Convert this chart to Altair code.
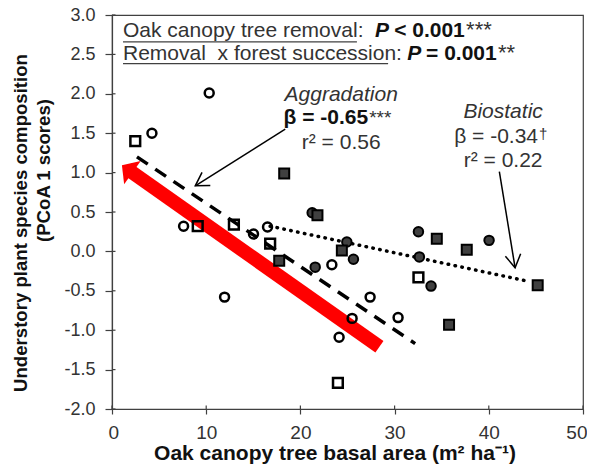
import altair as alt
import pandas as pd

FONT = "Liberation Sans, Arial, sans-serif"

# ---------------- data ----------------
open_circle_x = [4.24, 10.32, 7.60, 15.02, 16.51, 23.34, 27.40, 25.49, 24.11, 11.95, 30.37]
open_circle_y = [1.50, 2.01, 0.32, 0.22, 0.31, -0.17, -0.58, -0.85, -1.09, -0.58, -0.84]
open_square_x = [9.10, 12.94, 16.79, 23.98, 2.47, 32.53]
open_square_y = [0.32, 0.34, 0.10, -1.67, 1.40, -0.33]
filled_circle_x = [21.25, 21.57, 24.93, 25.63, 32.53, 32.63, 33.87, 40.03]
filled_circle_y = [0.49, -0.20, 0.12, -0.10, 0.25, -0.07, -0.44, 0.14]
filled_square_x = [17.75, 18.28, 21.81, 24.40, 34.48, 37.66, 45.19, 35.78]
filled_square_y = [-0.12, 0.99, 0.46, 0.01, 0.16, 0.02, -0.43, -0.93]

# fitted regression lines (end points)
aggradation_fit_x = [2.65, 32.18]
aggradation_fit_y = [1.20, -1.17]
biostatic_fit_x = [16.79, 44.20]
biostatic_fit_y = [0.32, -0.38]

# annotation arrows (data units)
red_arrow_x = [1.61, 28.39]
red_arrow_y = [1.047, -1.21]
aggr_arrow_x = [18.39, 8.84]
aggr_arrow_y = [1.552, 0.832]
bio_arrow_x = [41.12, 42.79]
bio_arrow_y = [1.013, -0.207]

x_ticks = [0, 10, 20, 30, 40, 50]
y_ticks = [-2.0, -1.5, -1.0, -0.5, 0.0, 0.5, 1.0, 1.5, 2.0, 2.5, 3.0]

x_title = "Oak canopy tree basal area (m² ha⁻¹)"
y_title_lines = ["Understory plant species composition", "(PCoA 1 scores)"]

W, H = 471, 394

# ---------------- scales / axes ----------------
x_enc = alt.X(
    "x:Q",
    scale=alt.Scale(domain=[0, 50], nice=False, zero=False),
    axis=alt.Axis(values=x_ticks, format="d", title=None, grid=False, tickSize=5,
                  labelPadding=9, labelFontSize=19, labelFlush=True, labelFlushOffset=4),
)
y_enc = alt.Y(
    "y:Q",
    scale=alt.Scale(domain=[-2, 3], nice=False, zero=False),
    axis=alt.Axis(values=y_ticks, title=None, grid=False, tickSize=7,
                  labelPadding=10, labelFontSize=18,
                  labelExpr="replace(format(datum.value, '.1f'), '\u2212', '-')"),
)


def pts(xs, ys):
    return pd.DataFrame({"x": xs, "y": ys})


def text_layer(texts, xs, ys, **kw):
    df = pd.DataFrame({"x": xs, "y": ys, "t": texts})
    kw.setdefault("baseline", "alphabetic")
    return alt.Chart(df).mark_text(font=FONT, **kw).encode(x=x_enc, y=y_enc, text="t:N")


def pixel_text(text, px, py, **kw):
    return alt.Chart(pd.DataFrame({"t": [text]})).mark_text(font=FONT, **kw).encode(
        x=alt.value(px), y=alt.value(py), text="t:N")


# ---------------- marks ----------------
# short inward parts of the tick marks (ticks cross the axes in the original)
inner_y_ticks = alt.Chart(pd.DataFrame({"y": y_ticks})).mark_rule(
    color="#404040", strokeWidth=1.2).encode(y=y_enc, x=alt.value(0), x2=alt.value(3.5))
inner_x_ticks = alt.Chart(pd.DataFrame({"x": x_ticks})).mark_rule(
    color="#404040", strokeWidth=1.2).encode(x=x_enc, y=alt.value(H), y2=alt.value(H - 3.5))

red_shaft = alt.Chart(pts(red_arrow_x, red_arrow_y)).mark_line(
    color="#ff0000", strokeWidth=14, strokeCap="butt").encode(x=x_enc, y=y_enc)
red_head = alt.Chart(pts(red_arrow_x[:1], red_arrow_y[:1])).mark_point(
    shape="M0,-0.45L1,0.45L-1,0.45Z", size=820, filled=True, color="#ff0000",
    opacity=1, angle=305.3).encode(x=x_enc, y=y_enc)

aggr_line = alt.Chart(pts(aggradation_fit_x, aggradation_fit_y)).mark_line(
    color="black", strokeWidth=3.5, strokeDash=[13, 9]).encode(x=x_enc, y=y_enc)
bio_line = alt.Chart(pts(biostatic_fit_x, biostatic_fit_y)).mark_line(
    color="black", strokeWidth=3.5, strokeDash=[0.5, 6.5], strokeCap="round").encode(x=x_enc, y=y_enc)

circ_open = alt.Chart(pts(open_circle_x, open_circle_y)).mark_point(
    shape="circle", filled=False, stroke="black", strokeWidth=2.5, size=80, opacity=1
).encode(x=x_enc, y=y_enc)
sq_open = alt.Chart(pts(open_square_x, open_square_y)).mark_point(
    shape="square", filled=False, stroke="black", strokeWidth=2.5, size=95, opacity=1
).encode(x=x_enc, y=y_enc)
circ_fill = alt.Chart(pts(filled_circle_x, filled_circle_y)).mark_point(
    shape="circle", filled=True, fill="#404040", stroke="black", strokeWidth=2, size=90, opacity=1
).encode(x=x_enc, y=y_enc)
sq_fill = alt.Chart(pts(filled_square_x, filled_square_y)).mark_point(
    shape="square", filled=True, fill="#404040", stroke="black", strokeWidth=2, size=100, opacity=1
).encode(x=x_enc, y=y_enc)

aggr_arrow = alt.Chart(pts(aggr_arrow_x, aggr_arrow_y)).mark_line(
    color="black", strokeWidth=1.5).encode(x=x_enc, y=y_enc)
aggr_head = alt.Chart(pts(aggr_arrow_x[1:], aggr_arrow_y[1:])).mark_point(
    shape="M-0.6,1L0,0L0.6,1", size=665, filled=False, stroke="black", strokeWidth=1.5,
    opacity=1, angle=237.7).encode(x=x_enc, y=y_enc)
bio_arrow = alt.Chart(pts(bio_arrow_x, bio_arrow_y)).mark_line(
    color="black", strokeWidth=1.5).encode(x=x_enc, y=y_enc)
bio_head = alt.Chart(pts(bio_arrow_x[1:], bio_arrow_y[1:])).mark_point(
    shape="M-0.6,1L0,0L0.6,1", size=665, filled=False, stroke="black", strokeWidth=1.5,
    opacity=1, angle=170.8).encode(x=x_enc, y=y_enc)

# underlines of the top statistics text
underline_x1 = [1.17, 1.17]
underline_x2 = [26.0, 29.31]
underline_y = [2.660, 2.382]
underlines = alt.Chart(pd.DataFrame({"x": underline_x1, "x2": underline_x2, "y": underline_y})).mark_rule(
    color="#404040", strokeWidth=1.3).encode(x=x_enc, x2="x2:Q", y=y_enc)

TXT = "#333333"
BLK = "#111111"
L1, L2 = 2.726, 2.430
layers = [
    inner_y_ticks, inner_x_ticks,
    red_shaft, red_head, aggr_line, bio_line,
    circ_open, sq_open, circ_fill, sq_fill,
    aggr_arrow, aggr_head, bio_arrow, bio_head, underlines,
    # top statistics
    text_layer(["Oak canopy tree removal:", "Removal\u00a0 x forest succession:"], [1.17, 1.17],
               [L1, L2], fontSize=21, align="left", color=TXT),
    text_layer(["P", "P"], [27.93, 31.33], [L1, L2], fontSize=21, align="left",
               fontWeight="bold", fontStyle="italic", color=BLK),
    text_layer(["< 0.001", "= 0.001"], [29.95, 33.34], [L1, L2], fontSize=21, align="left",
               fontWeight="bold", color=BLK),
    text_layer(["***", "**"], [37.59, 40.98], [L1, L2], fontSize=22, align="left", color=TXT),
    # regression blocks
    text_layer(["Aggradation", "Biostatic"], [24.33, 41.52], [1.908, 1.687], fontSize=21,
               align="center", fontStyle="italic", color=TXT),
    text_layer(["β = -0.65"], [27.2], [1.617], fontSize=21, align="right", fontWeight="bold", color=BLK),
    text_layer(["***"], [27.3], [1.617], fontSize=19, align="left", color=TXT),
    text_layer(["r² = 0.56", "r² = 0.22"], [24.33, 41.52], [1.300, 1.070], fontSize=21,
               align="center", color=TXT),
    text_layer(["β = -0.34"], [45.23], [1.370], fontSize=21, align="right", color=TXT),
    text_layer(["†"], [45.33], [1.421], fontSize=15, align="left", color=TXT),
    # axis titles
    pixel_text(y_title_lines[0], -85, 208, angle=270, fontSize=18.6, fontWeight="bold",
               align="center", baseline="alphabetic", color=BLK),
    pixel_text(y_title_lines[1], -62, 155.5, angle=270, fontSize=18.6, fontWeight="bold",
               align="center", baseline="alphabetic", color=BLK),
    pixel_text(x_title, 223, 445, fontSize=21, fontWeight="bold", align="center",
               baseline="alphabetic", color=BLK),
]

chart = alt.layer(*layers).properties(
    width=W, height=H,
    autosize=alt.AutoSizeParams(type="none"),
    padding={"left": 104, "top": 7, "right": 4, "bottom": 55},
).configure_view(
    stroke="#404040", strokeWidth=1.2
).configure_axis(
    labelFont=FONT, labelColor="#333333", domainColor="#404040", tickColor="#404040",
    domainWidth=1.2, tickWidth=1.2
)

chart.save("out.html", embed_options={"renderer": "svg", "actions": False})
